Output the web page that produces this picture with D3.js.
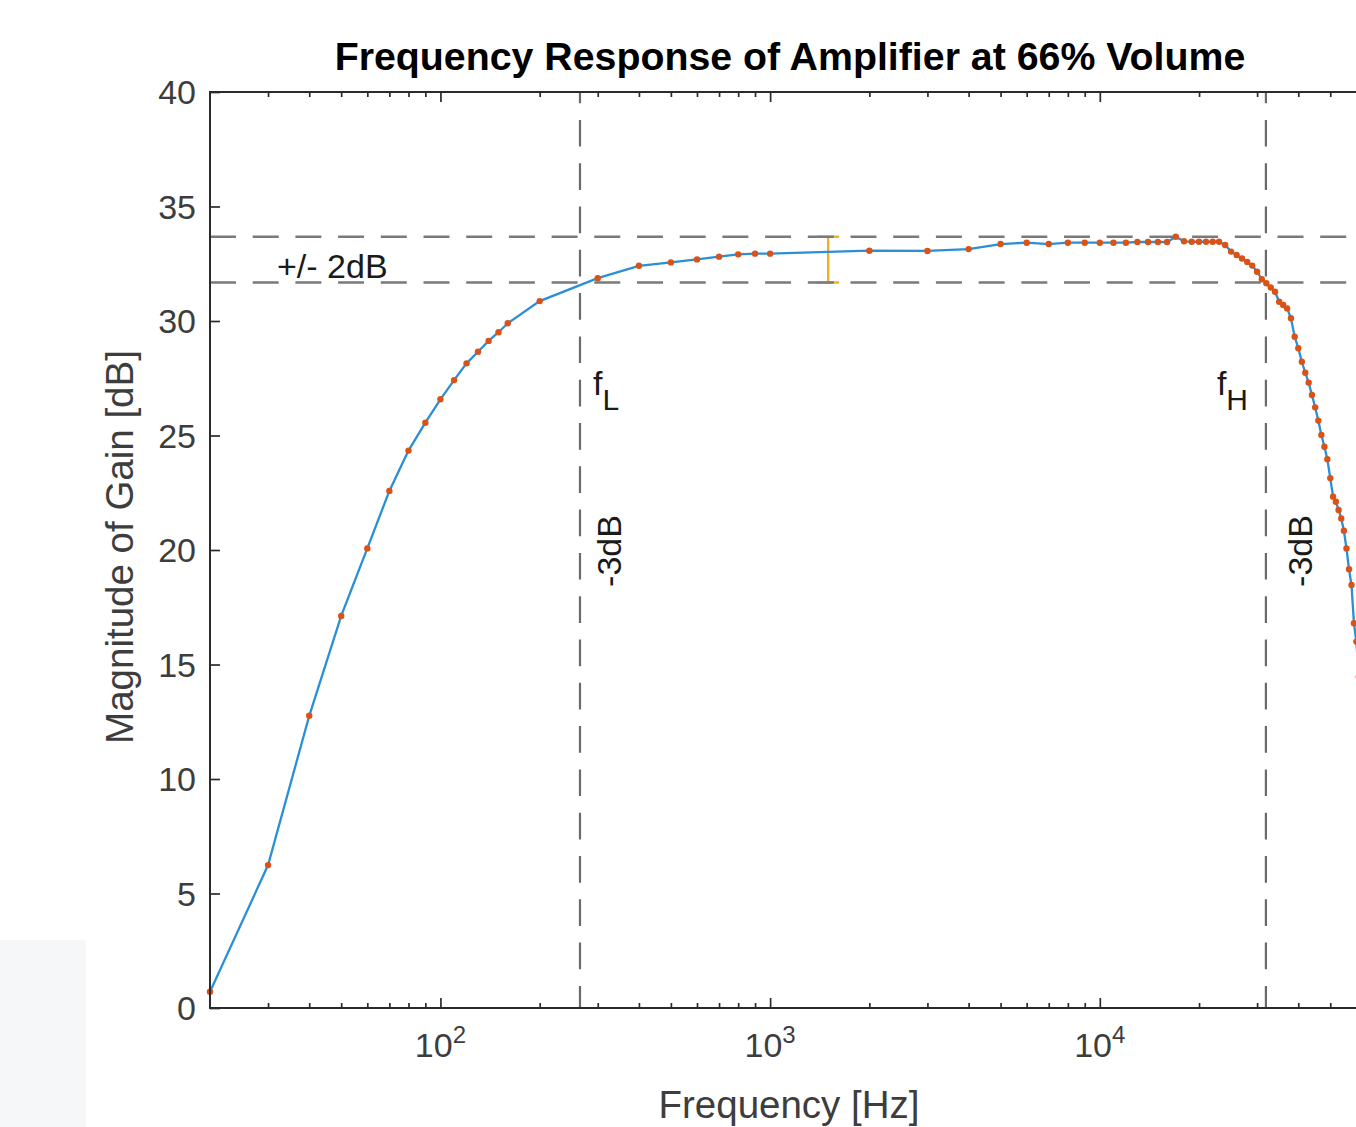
<!DOCTYPE html>
<html>
<head>
<meta charset="utf-8">
<script src="https://cdn.jsdelivr.net/npm/d3@7"></script>
<style>
  html, body { margin: 0; padding: 0; background: #fff; overflow: hidden; }
  svg { display: block; }
  text { font-family: "Liberation Sans", Arial, Helvetica, sans-serif; }
</style>
</head>
<body>
<div id="chart"></div>
<script>
// Measured points (frequency in Hz, gain in dB)
const freqs = [20, 30, 40, 50, 60, 70, 80, 90, 100, 110, 120, 130, 140, 150, 160, 200,
  300, 400, 500, 600, 700, 800, 900, 1000, 2000, 3000, 4000, 5000, 6000, 7000, 8000, 9000,
  10000, 11000, 12000, 13000, 14000, 15000, 16000, 17000, 18000, 19000, 20000, 21000, 22000, 23000,
  24000, 25000, 26000, 27000, 28000, 29000, 30000, 31000, 32000, 33000, 34000, 35000, 36000,
  37000, 38000, 39000, 40000, 41000, 42000, 43000, 44000, 45000, 46000, 47000, 48000, 49000,
  50000, 51000, 52000, 53000, 54000, 55000, 56000, 57000, 58000, 59000, 60000, 61000];
const gains = [0.71, 6.24, 12.76, 17.12, 20.07, 22.58, 24.34, 25.56, 26.58, 27.42, 28.15, 28.66, 29.13, 29.51, 29.90, 30.87,
  31.87, 32.41, 32.56, 32.69, 32.81, 32.91, 32.94, 32.94, 33.07, 33.06, 33.14, 33.36, 33.42, 33.36, 33.42, 33.42,
  33.42, 33.42, 33.42, 33.45, 33.45, 33.45, 33.45, 33.68, 33.48, 33.46, 33.46, 33.46, 33.46, 33.46,
  33.32, 33.03, 32.88, 32.73, 32.58, 32.42, 32.15, 31.82, 31.65, 31.46, 31.28, 30.84, 30.70,
  30.55, 30.12, 29.31, 28.81, 28.22, 27.74, 27.31, 26.77, 26.23, 25.65, 25.02, 24.51, 23.96,
  23.14, 22.33, 22.11, 21.75, 21.38, 20.84, 20.07, 19.16, 18.47, 16.80, 16.00, 14.47];

// Reference lines and annotations
const bandTop = 33.68;
const bandBottom = 31.68;
const fLow = 265;
const fHigh = 31900;
const errFreq = 1500;
const errCenter = 32.68;
const errHalf = 1.0;

const yTicks = [0, 5, 10, 15, 20, 25, 30, 35, 40];
const xMajor = [100, 1000, 10000];
const xMajorExp = ['2', '3', '4'];
const xMinor = [30, 40, 50, 60, 70, 80, 90, 200, 300, 400, 500, 600, 700, 800, 900,
  2000, 3000, 4000, 5000, 6000, 7000, 8000, 9000, 20000, 30000, 40000, 50000, 60000];

const W = 1356, H = 1127;
const PLOT = { LEFT: 210, RIGHT: 1370, TOP: 92, BOTTOM: 1008 };
const AXIS_COLOR = '#2b2b2b';
const TEXT_COLOR = '#3d3d3d';

const svg = d3.select('#chart').append('svg')
  .attr('width', W)
  .attr('height', H);

// faint patch in lower-left corner of the original screenshot
svg.append('rect')
  .attr('x', 0).attr('y', 940).attr('width', 86).attr('height', H - 940)
  .attr('fill', '#f5f7f9');

const x = d3.scaleLog().domain([20, 66000]).range([PLOT.LEFT, PLOT.RIGHT]);
const y = d3.scaleLinear().domain([0, 40]).range([PLOT.BOTTOM, PLOT.TOP]);

svg.append('defs').append('clipPath').attr('id', 'plotclip')
  .append('rect')
  .attr('x', PLOT.LEFT).attr('y', PLOT.TOP)
  .attr('width', PLOT.RIGHT - PLOT.LEFT).attr('height', PLOT.BOTTOM - PLOT.TOP);

// Error bar (drawn first so dashed lines sit over its caps)
const eb = svg.append('g').attr('stroke', '#EDB120').attr('stroke-width', 2.4);
eb.append('line')
  .attr('x1', x(errFreq)).attr('x2', x(errFreq))
  .attr('y1', y(errCenter - errHalf)).attr('y2', y(errCenter + errHalf));
[errCenter - errHalf, errCenter + errHalf].forEach(v => {
  eb.append('line')
    .attr('x1', x(errFreq) - 11).attr('x2', x(errFreq) + 11)
    .attr('y1', y(v)).attr('y2', y(v));
});

// Dashed reference lines
const refs = svg.append('g').attr('clip-path', 'url(#plotclip)');
[bandTop, bandBottom].forEach(v => {
  refs.append('line')
    .attr('x1', PLOT.LEFT).attr('x2', PLOT.RIGHT)
    .attr('y1', y(v)).attr('y2', y(v))
    .attr('stroke', '#7a7a7a')
    .attr('stroke-width', 2.4)
    .attr('stroke-dasharray', '26 16.7');
});
[fLow, fHigh].forEach(f => {
  refs.append('line')
    .attr('x1', x(f)).attr('x2', x(f))
    .attr('y1', PLOT.TOP).attr('y2', PLOT.BOTTOM)
    .attr('stroke', '#6a6a6a')
    .attr('stroke-width', 2.2)
    .attr('stroke-dasharray', '26.7 16.6')
    .attr('stroke-dashoffset', 15.4);
});

// Data line and markers
const pts = freqs.map((f, i) => ({ f, g: gains[i] }));
const line = d3.line().x(d => x(d.f)).y(d => y(d.g));

svg.append('path')
  .datum(pts)
  .attr('clip-path', 'url(#plotclip)')
  .attr('fill', 'none')
  .attr('stroke', '#2a8fd6')
  .attr('stroke-width', 2.3)
  .attr('d', line);

svg.selectAll('.dot')
  .data(pts)
  .enter()
  .append('circle')
  .attr('class', 'dot')
  .attr('cx', d => x(d.f))
  .attr('cy', d => y(d.g))
  .attr('r', 3.2)
  .attr('fill', '#D95319');

// Axes box
svg.append('rect')
  .attr('x', PLOT.LEFT).attr('y', PLOT.TOP)
  .attr('width', PLOT.RIGHT - PLOT.LEFT).attr('height', PLOT.BOTTOM - PLOT.TOP)
  .attr('fill', 'none')
  .attr('stroke', AXIS_COLOR)
  .attr('stroke-width', 2);

function styleAxis(g) {
  g.select('.domain').remove();
  g.selectAll('.tick line').attr('stroke', AXIS_COLOR).attr('stroke-width', 1.7);
  g.selectAll('.tick text').remove();
}

// inward ticks, bottom and top
svg.append('g').attr('transform', `translate(0,${PLOT.BOTTOM})`)
  .call(d3.axisBottom(x).tickValues(xMinor).tickSize(-5).tickSizeOuter(0)).call(styleAxis);
svg.append('g').attr('transform', `translate(0,${PLOT.BOTTOM})`)
  .call(d3.axisBottom(x).tickValues(xMajor).tickSize(-10).tickSizeOuter(0)).call(styleAxis);
svg.append('g').attr('transform', `translate(0,${PLOT.TOP})`)
  .call(d3.axisTop(x).tickValues(xMinor).tickSize(-5).tickSizeOuter(0)).call(styleAxis);
svg.append('g').attr('transform', `translate(0,${PLOT.TOP})`)
  .call(d3.axisTop(x).tickValues(xMajor).tickSize(-10).tickSizeOuter(0)).call(styleAxis);
svg.append('g').attr('transform', `translate(${PLOT.LEFT},0)`)
  .call(d3.axisLeft(y).tickValues(yTicks).tickSize(-10).tickSizeOuter(0)).call(styleAxis);

// Tick labels
svg.selectAll('.ylab')
  .data(yTicks)
  .enter()
  .append('text')
  .attr('class', 'ylab')
  .attr('x', 196)
  .attr('y', d => y(d))
  .attr('dy', '0.36em')
  .attr('text-anchor', 'end')
  .attr('fill', TEXT_COLOR)
  .style('font-size', '34px')
  .text(d => d);

const xl = svg.selectAll('.xlab')
  .data(xMajor)
  .enter()
  .append('text')
  .attr('class', 'xlab')
  .attr('x', d => x(d))
  .attr('y', 1057)
  .attr('text-anchor', 'middle')
  .attr('fill', TEXT_COLOR)
  .style('font-size', '34px');
xl.append('tspan').text('10');
xl.append('tspan')
  .attr('dy', -14)
  .style('font-size', '24px')
  .text((d, i) => xMajorExp[i]);

// Axis titles
svg.append('text')
  .attr('x', 789).attr('y', 1118)
  .attr('text-anchor', 'middle')
  .attr('fill', TEXT_COLOR)
  .style('font-size', '38.5px')
  .text('Frequency [Hz]');

svg.append('text')
  .attr('transform', 'translate(133,547) rotate(-90)')
  .attr('text-anchor', 'middle')
  .attr('fill', TEXT_COLOR)
  .style('font-size', '38.5px')
  .text('Magnitude of Gain [dB]');

svg.append('text')
  .attr('x', 790).attr('y', 70)
  .attr('text-anchor', 'middle')
  .attr('fill', '#000')
  .style('font-size', '39.3px')
  .style('font-weight', 'bold')
  .text('Frequency Response of Amplifier at 66% Volume');

// Annotations
svg.append('text')
  .attr('x', 277).attr('y', 278)
  .attr('fill', '#1a1a1a')
  .style('font-size', '34px')
  .text('+/- 2dB');

function subLabel(xPos, main, sub) {
  const t = svg.append('text')
    .attr('x', xPos).attr('y', 395)
    .attr('fill', '#1a1a1a')
    .style('font-size', '34px');
  t.append('tspan').text(main);
  t.append('tspan').attr('dy', 15).style('font-size', '30px').text(sub);
}
subLabel(x(fLow) + 13, 'f', 'L');
subLabel(x(fHigh) - 49, 'f', 'H');

[x(fLow) + 41, x(fHigh) + 46].forEach(xp => {
  svg.append('text')
    .attr('transform', `translate(${xp},551) rotate(-90)`)
    .attr('text-anchor', 'middle')
    .attr('fill', '#1a1a1a')
    .style('font-size', '34px')
    .text('-3dB');
});
</script>
</body>
</html>
